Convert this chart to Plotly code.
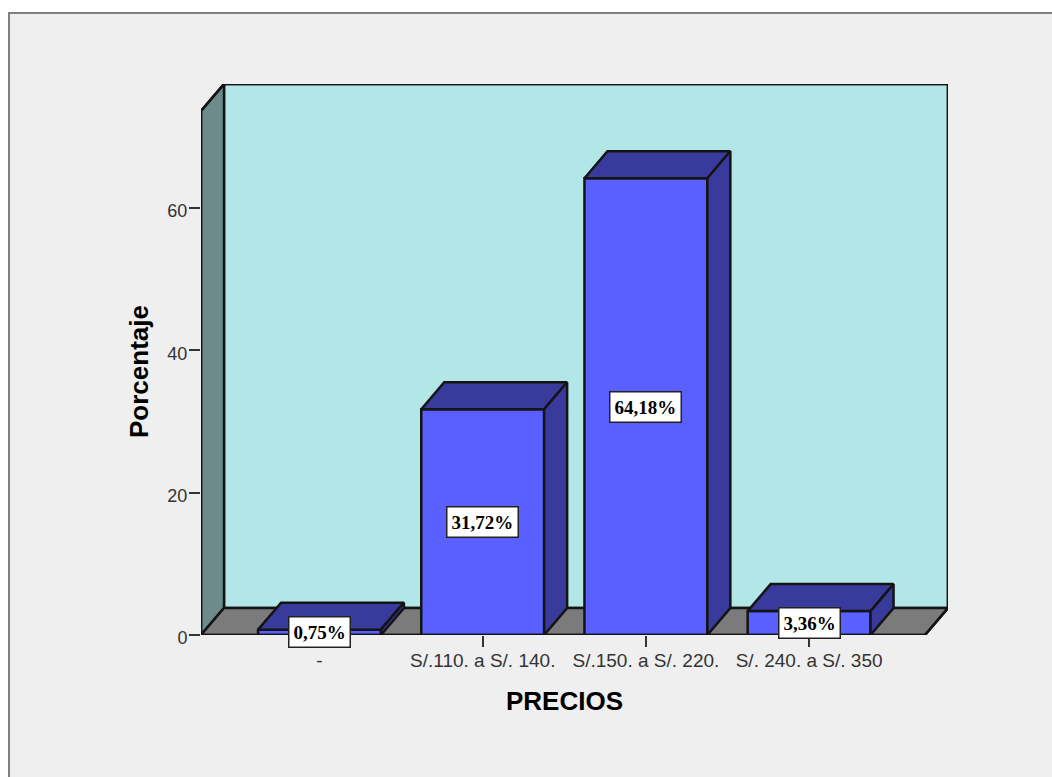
import plotly.graph_objects as go

# Data
categories = ["-", "S/.110. a S/. 140.", "S/.150. a S/. 220.", "S/. 240. a S/. 350"]
percentages = [0.75, 31.72, 64.18, 3.36]
y_ticks = [0, 20, 40, 60]

# Figure size and plot box, in pixels
FIG_W, FIG_H = 1052, 777
LEFT_PX, RIGHT_PX, BOTTOM_PX, TOP_PX = 201, 948, 635, 84
PX_PER_CATEGORY = 163.2
PX_PER_PERCENT = 7.117
FIRST_CATEGORY_PX = 319.5

# Axis ranges follow from the pixel scales
x_min = (LEFT_PX - FIRST_CATEGORY_PX) / PX_PER_CATEGORY
x_max = (RIGHT_PX - FIRST_CATEGORY_PX) / PX_PER_CATEGORY
y_max = (BOTTOM_PX - TOP_PX) / PX_PER_PERCENT

# Oblique depth of the pseudo-3D box, in axis units
DX = 23 / PX_PER_CATEGORY
DY = 27 / PX_PER_PERCENT
BAR_WIDTH = 0.753
y_front_top = y_max - DY
x_front_right = x_max - DX

WALL = "#b3e6e6"
SIDE_WALL = "#6e8b8b"
FLOOR = "#7b7b7b"
BAR_FRONT = "#5a60ff"
BAR_SHADE = "#383a9c"
EDGE = "#141414"
PAGE = "#efefef"
LINE_W = 2.5


def poly(points):
    return "M " + " L ".join(f"{x},{y}" for x, y in points) + " Z"


def face(xs, ys, color):
    return go.Scatter(
        x=xs + xs[:1], y=ys + ys[:1], mode="lines", fill="toself", fillcolor=color,
        line=dict(color=EDGE, width=LINE_W), hoverinfo="skip", showlegend=False, cliponaxis=False,
    )


fig = go.Figure()

# Front faces
fig.add_trace(go.Bar(
    x=list(range(len(categories))), y=percentages, width=BAR_WIDTH,
    marker=dict(color=BAR_FRONT, line=dict(color=EDGE, width=LINE_W)),
    showlegend=False, cliponaxis=False,
))

# Top and right faces of each bar
for i, v in enumerate(percentages):
    x0, x1 = i - BAR_WIDTH / 2, i + BAR_WIDTH / 2
    fig.add_trace(face([x0, x1, x1 + DX, x0 + DX], [v, v, v + DY, v + DY], BAR_SHADE))
    fig.add_trace(face([x1, x1 + DX, x1 + DX, x1], [0, DY, v + DY, v], BAR_SHADE))

# Outer silhouette of the box, on top so it is not clipped at the plot edge
fig.add_trace(go.Scatter(
    x=[x_min, x_min, x_min + DX, x_max, x_max, x_front_right, x_min],
    y=[0, y_front_top, y_max, y_max, DY, 0, 0],
    mode="lines", line=dict(color=EDGE, width=LINE_W), hoverinfo="skip",
    showlegend=False, cliponaxis=False,
))

edge_line = dict(color=EDGE, width=LINE_W)
shapes = [
    # Page frame
    dict(type="rect", xref="paper", yref="paper", x0=9 / FIG_W, x1=1.02,
         y0=-0.02, y1=1 - 13 / FIG_H, fillcolor=PAGE, line=dict(color="#808080", width=2),
         layer="below"),
    # Back wall, side wall and floor
    dict(type="path", xref="x", yref="y", layer="below", fillcolor=WALL, line=edge_line,
         path=poly([(x_min + DX, DY), (x_max, DY), (x_max, y_max), (x_min + DX, y_max)])),
    dict(type="path", xref="x", yref="y", layer="below", fillcolor=SIDE_WALL, line=edge_line,
         path=poly([(x_min, 0), (x_min + DX, DY), (x_min + DX, y_max), (x_min, y_front_top)])),
    dict(type="path", xref="x", yref="y", layer="below", fillcolor=FLOOR, line=edge_line,
         path=poly([(x_min, 0), (x_front_right, 0), (x_max, DY), (x_min + DX, DY)])),
]

# Value labels sit at half the bar height
annotations = [
    dict(x=i, y=v / 2, xref="x", yref="y", showarrow=False, xanchor="center", yanchor="middle",
         text=f"{v:.2f}".replace(".", ",") + "%",
         font=dict(family="Liberation Serif", size=19, color="#000000", weight="bold"),
         bgcolor="#ffffff", bordercolor="#222222", borderwidth=1.5, borderpad=4)
    for i, v in enumerate(percentages)
]
annotations += [
    dict(x=564.5 / FIG_W, y=1 - 701 / FIG_H, xref="paper", yref="paper", showarrow=False,
         xanchor="center", yanchor="middle", text="PRECIOS",
         font=dict(family="Liberation Sans", size=26, color="#000000", weight="bold")),
    dict(x=139 / FIG_W, y=1 - 372 / FIG_H, xref="paper", yref="paper", showarrow=False,
         xanchor="center", yanchor="middle", text="Porcentaje", textangle=-90,
         font=dict(family="Liberation Sans", size=26, color="#000000", weight="bold")),
]

fig.update_layout(
    width=FIG_W, height=FIG_H, margin=dict(l=0, r=0, t=0, b=0),
    paper_bgcolor="#ffffff", plot_bgcolor="rgba(0,0,0,0)", shapes=shapes, annotations=annotations,
    xaxis=dict(
        domain=[LEFT_PX / FIG_W, RIGHT_PX / FIG_W], range=[x_min, x_max], automargin=False,
        tickmode="array", tickvals=list(range(len(categories))), ticktext=categories,
        ticks="outside", ticklen=11, tickwidth=2, tickcolor="#333333",
        ticklabelstandoff=-3,
        tickfont=dict(family="Liberation Sans", size=19, color="#333333"),
        showgrid=False, zeroline=False, showline=False,
    ),
    yaxis=dict(
        domain=[1 - BOTTOM_PX / FIG_H, 1 - TOP_PX / FIG_H], range=[0, y_max], automargin=False,
        tickmode="array", tickvals=y_ticks, ticks="outside", ticklen=11, tickwidth=2,
        ticklabelstandoff=-2, ticklabelshift=3,
        tickcolor="#333333", tickfont=dict(family="Liberation Sans", size=18, color="#333333"),
        showgrid=False, zeroline=False, showline=False,
    ),
)

fig.write_html("out.html")
